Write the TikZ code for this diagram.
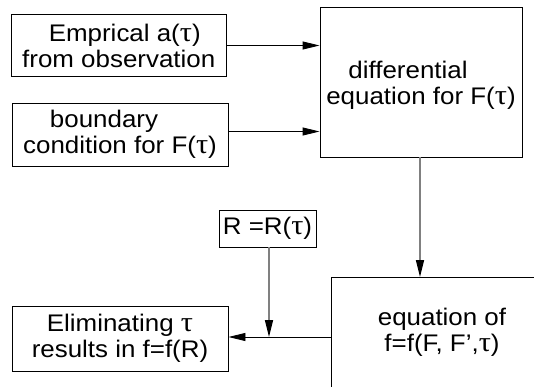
\documentclass[tikz,border=0pt]{standalone}
\usepackage{fontspec}
\setmainfont{Liberation Sans}[FakeStretch=1.08]
\newfontfamily\grk{Liberation Serif}[FakeStretch=1.08]
\newcommand{\tu}{{\grk\fontsize{28}{26}\selectfont τ}}
\usetikzlibrary{arrows.meta}
\begin{document}
\begin{tikzpicture}[x=1pt,y=-1pt,
  txt/.style={inner sep=0pt, align=center, font=\fontsize{24}{26}\selectfont},
  box/.style={txt, draw=black, line width=0.9pt},
  frame/.style={draw=black, line width=0.9pt, inner sep=0pt},
  arr/.style={draw=black, line width=0.9pt, -{Triangle[length=17pt,width=8pt]}},
  garr/.style={draw=gray, line width=1.4pt, -{Triangle[length=17pt,width=8pt,color=black]}}]
\useasboundingbox (0,0) rectangle (534,387);
\clip (0,0) rectangle (534,387);
% boxes
\node[box, minimum width=214.5pt, minimum height=62pt] (emp) at (118.75,45.5)
  {\hspace*{12pt}Emprical a(\tu)\\from observation};
\node[box, minimum width=216pt, minimum height=63pt] (bnd) at (120,134.5)
  {boundary\hspace*{32pt}\\condition for F(\tu)};
\node[frame, minimum width=202pt, minimum height=150pt] (dif) at (421,82) {};
\node[txt] (dift) at (421,85) {differential\hspace*{26pt}\\equation for F(\tu)};
\node[box, minimum width=97pt, minimum height=37pt] (rr) at (267.5,228.5)
  {R =R(\tu)};
\node[box, minimum width=216pt, minimum height=65pt] (elim) at (120,338.5)
  {Eliminating \tu\\results in f=f(R)};
\node[frame, anchor=north west, minimum width=260pt, minimum height=150pt] (eq) at (331,277) {};
\node[txt] (eqt) at (442,332) {equation of\\f=f(F, F',\tu)};
% connectors
\draw[arr] (emp.east) -- (emp.east -| dif.west);
\draw[arr] ([yshift=3pt]bnd.east) -- ([yshift=3pt]bnd.east -| dif.west);
\draw[garr] ([xshift=-1pt]dif.south) -- ([xshift=-1pt]dif.south |- eq.north);
\draw[arr] (eq.north west |- 0,337) -- (elim.east |- 0,337);
\draw[garr] ([xshift=1.5pt]rr.south) -- ([xshift=1.5pt]rr.south |- 0,337);
\end{tikzpicture}
\end{document}
